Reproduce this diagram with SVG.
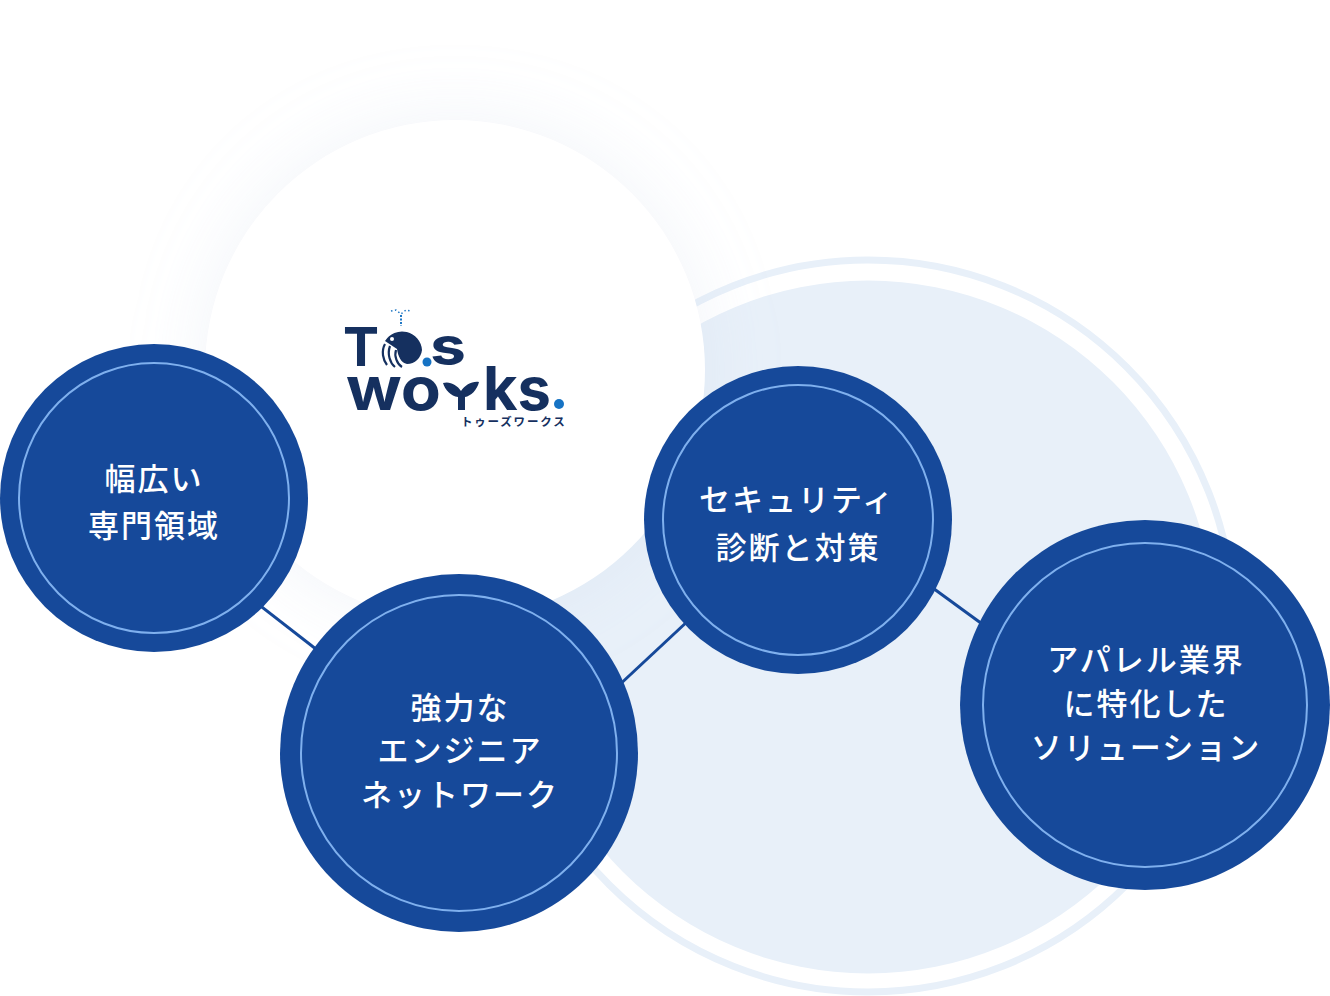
<svg xmlns="http://www.w3.org/2000/svg" width="1330" height="996" viewBox="0 0 1330 996">
<defs>
<filter id="glow" x="-40%" y="-40%" width="180%" height="180%"><feGaussianBlur stdDeviation="36"/></filter>
</defs>
<style>
.node{fill:#16499a}
.ring{fill:none;stroke:#7fb0ee;stroke-width:2}
.label{font-family:"Noto Sans CJK JP","Noto Sans",sans-serif;font-weight:500;font-size:31px;fill:#fff;text-anchor:middle;letter-spacing:2px}
.logo{font-family:"Inter","Liberation Sans",sans-serif;font-weight:700;fill:#15305f}
.conn{stroke:#16499a;stroke-width:3;fill:none}
</style>
<rect width="1330" height="996" fill="#fff"/>
<g id="background">
<circle cx="868" cy="627" r="346.500" fill="#e8f0f9"/>
<circle cx="868" cy="626" r="366" fill="none" stroke="#e8f0f9" stroke-width="7"/>
<circle cx="455" cy="370" r="250" fill="#c3d2e8" fill-opacity="0.24" filter="url(#glow)"/>
<circle cx="455" cy="370" r="250" fill="#fff"/>
</g>
<g id="connectors">
<line class="conn" x1="240" y1="590" x2="330" y2="660"/>
<line class="conn" x1="600" y1="703" x2="705" y2="605"/>
<line class="conn" x1="915" y1="575" x2="1000" y2="637"/>
</g>
<g id="logo">
<text class="logo" x="343" y="366" font-size="54" textLength="36" lengthAdjust="spacingAndGlyphs">T</text>
<path d="M385 341 A20 20 0 0 1 422 350 C421 358 415 364 407 364 C401 363 398 356 397 349 C393 346 389 344 385 341Z" fill="#15305f"/>
<path d="M385 344 C381 351 383 360 387 365 M390 346 C387 354 390 363 395 367 M396 350 C394 356 397 364 402 367" fill="none" stroke="#15305f" stroke-width="2.200"/>
<circle cx="392" cy="339" r="2" fill="#fff"/>
<path d="M401 315V326" stroke="#1f77c4" stroke-width="2" stroke-dasharray="2 1.500"/>
<path d="M391 311 L396 310 L401 314 L406 310 L411 311" fill="none" stroke="#1f77c4" stroke-width="1.500" stroke-dasharray="1.500 2.500"/>
<circle cx="427" cy="362" r="4.500" fill="#1673c4"/>
<text class="logo" x="430" y="365" font-size="54" textLength="36" lengthAdjust="spacingAndGlyphs">s</text>
<text class="logo" x="346" y="410" font-size="60" textLength="95" lengthAdjust="spacingAndGlyphs">wo</text>
<path d="M443 383 C450 381 457 385 461 391 C465 385 472 381 479 382 C477 390 471 396 465 397 V410 H458 V397 C451 396 445 390 443 383Z" fill="#15305f"/>
<text class="logo" x="483" y="410" font-size="60" textLength="68" lengthAdjust="spacingAndGlyphs">ks</text>
<circle cx="559" cy="404" r="5" fill="#1673c4"/>
<text x="461" y="426" font-family="'Noto Sans CJK JP',sans-serif" font-weight="700" font-size="11.500" letter-spacing="1.800" fill="#15305f">トゥーズワークス</text>
</g>
<g id="node-1">
<circle class="node" cx="154" cy="498" r="154"/>
<circle class="ring" cx="154" cy="498" r="135"/>
<text class="label" x="154" y="490">幅広い</text>
<text class="label" x="154" y="537">専門領域</text>
</g>
<g id="node-2">
<circle class="node" cx="459" cy="753" r="179"/>
<circle class="ring" cx="459" cy="753" r="158"/>
<text class="label" x="460" y="719">強力な</text>
<text class="label" x="460" y="762">エンジニア</text>
<text class="label" x="460" y="806">ネットワーク</text>
</g>
<g id="node-3">
<circle class="node" cx="798" cy="520" r="154"/>
<circle class="ring" cx="798" cy="520" r="135"/>
<text class="label" x="797" y="511">セキュリティ</text>
<text class="label" x="798" y="559">診断と対策</text>
</g>
<g id="node-4">
<circle class="node" cx="1145" cy="705" r="185"/>
<circle class="ring" cx="1145" cy="705" r="162"/>
<text class="label" x="1146" y="671">アパレル業界</text>
<text class="label" x="1146" y="715">に特化した</text>
<text class="label" x="1146" y="759">ソリューション</text>
</g>
</svg>
